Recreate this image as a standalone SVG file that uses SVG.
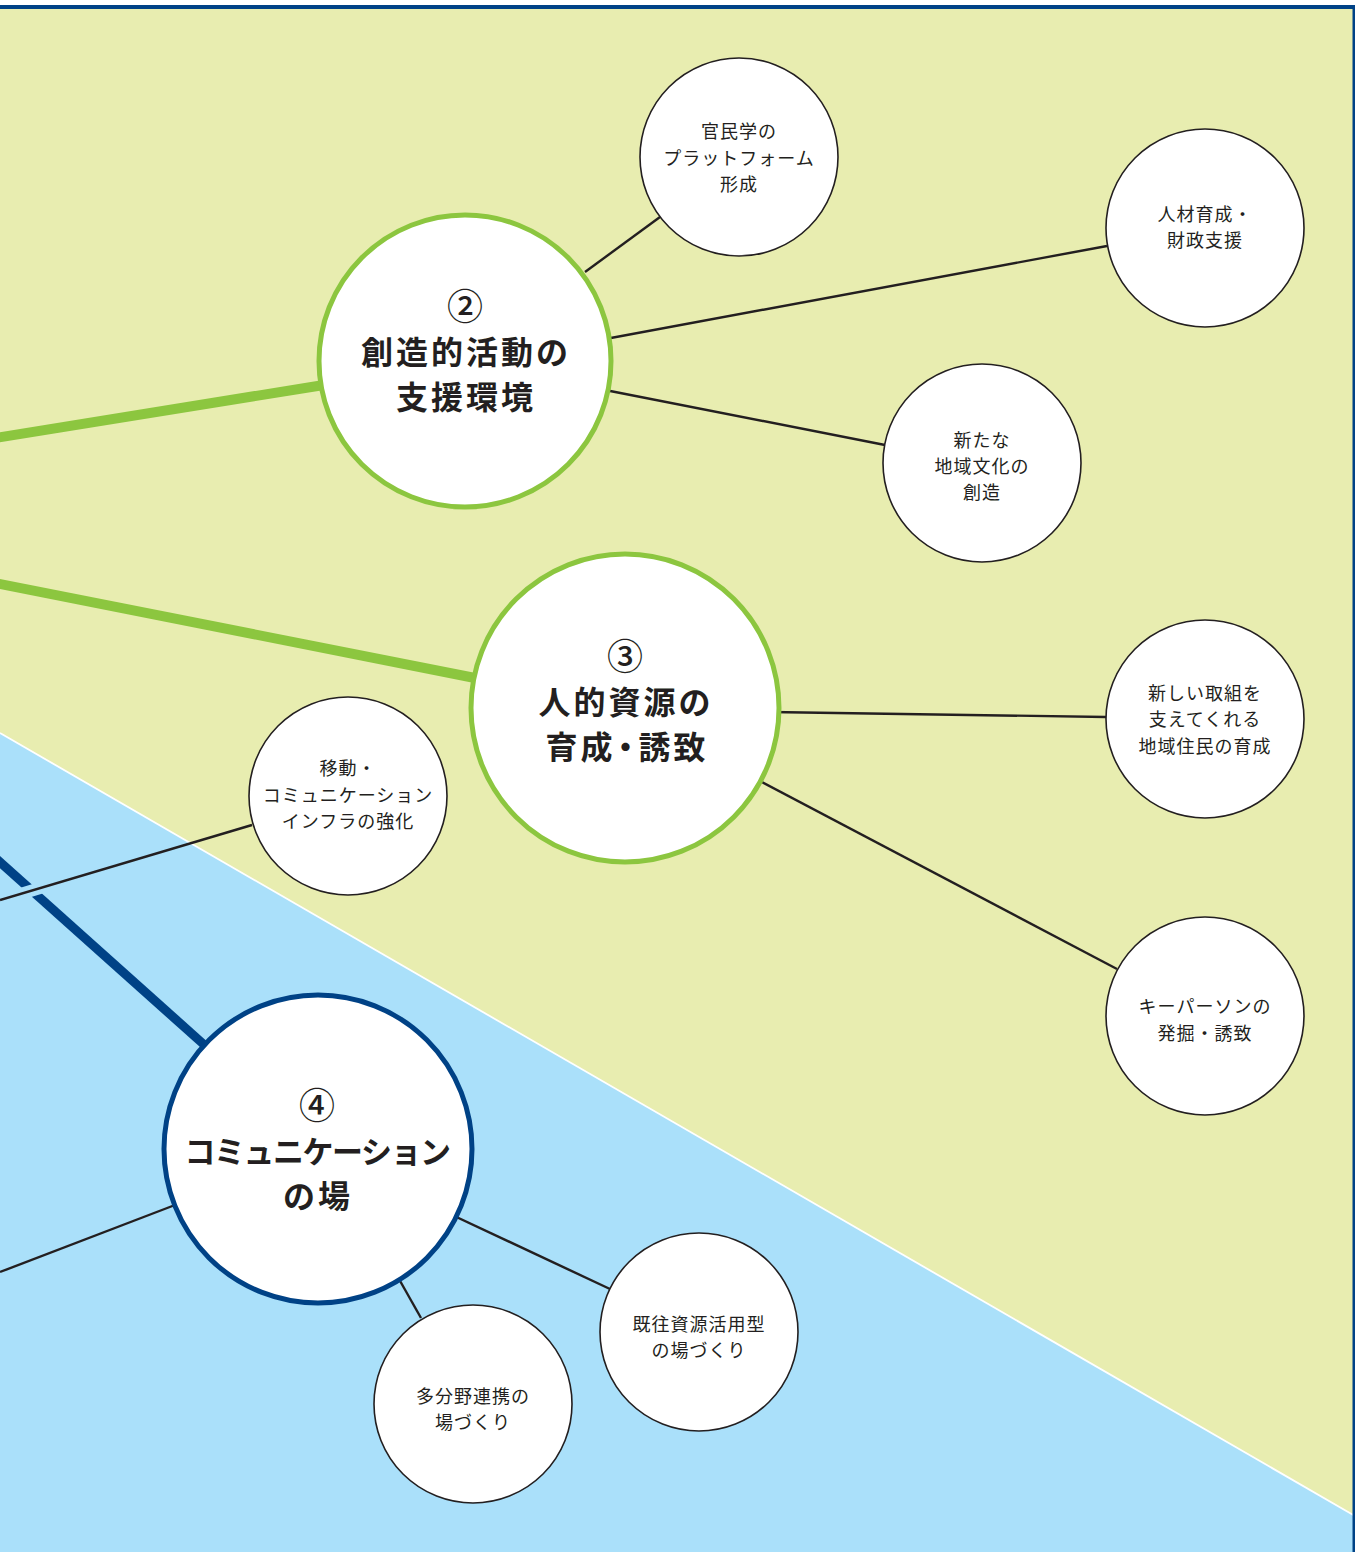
<svg xmlns="http://www.w3.org/2000/svg" width="1355" height="1552" viewBox="0 0 1355 1552">
<style>
.bigc{fill:#fff;stroke-width:5}
.g{stroke:#8cc63f}
.b{stroke:#004286}
.sc{fill:#fff;stroke:#231f20;stroke-width:1.6}
.ln{stroke:#231f20;stroke-width:2.4;fill:none}
.t{font-family:"Noto Sans CJK JP","Noto Sans",sans-serif;fill:#231f20;text-anchor:middle;dominant-baseline:central}
.s{font-size:18px;letter-spacing:1px}
.h{font-size:32px;font-weight:700;letter-spacing:3px}
.n{font-size:36px;font-weight:500}
</style>
<rect x="0" y="0" width="1355" height="1552" fill="#fff"/>
<rect x="0" y="9" width="1355" height="1543" fill="#e8edb0"/>
<polygon points="0,733 1355,1516 1355,1552 0,1552" fill="#aae0fa"/>
<line x1="0" y1="733" x2="1355" y2="1516" stroke="#fff" stroke-width="1.8"/>
<rect x="0" y="5" width="1355" height="4" fill="#004286"/>
<rect x="1352.5" y="5" width="2.5" height="1547" fill="#004286"/>
<g id="connectors">
<line x1="-5" y1="438" x2="330" y2="384" stroke="#8cc63f" stroke-width="10"/>
<line x1="-5" y1="583" x2="480" y2="679" stroke="#8cc63f" stroke-width="10"/>
<line x1="-8" y1="855" x2="210" y2="1050" stroke="#004286" stroke-width="9"/>
<line x1="14" y1="896" x2="50" y2="885" stroke="#aae0fa" stroke-width="12"/>
<line class="ln" x1="0" y1="900" x2="252" y2="825"/>
<line class="ln" x1="585" y1="272" x2="660" y2="217"/>
<line class="ln" x1="600" y1="340" x2="1107" y2="246"/>
<line class="ln" x1="600" y1="389" x2="885" y2="445"/>
<line class="ln" x1="770" y1="712" x2="1106" y2="717"/>
<line class="ln" x1="760" y1="781" x2="1117" y2="969"/>
<line class="ln" x1="450" y1="1214" x2="610" y2="1289"/>
<line class="ln" x1="395" y1="1272" x2="421" y2="1318"/>
<line class="ln" x1="0" y1="1272" x2="175" y2="1205"/>
</g>
<g id="node2">
<circle class="bigc g" cx="465" cy="361" r="146"/>
<text class="t n" x="465" y="304">②</text>
<text class="t h" x="466" y="350">創造的活動の</text>
<text class="t h" x="466" y="395">支援環境</text>
</g>
<g id="node3">
<circle class="bigc g" cx="625" cy="708" r="154"/>
<text class="t n" x="625" y="654">③</text>
<text class="t h" x="626" y="700">人的資源の</text>
<text class="t h" x="627" y="745">育成<tspan dx="-6">・</tspan><tspan dx="-6">誘致</tspan></text>
</g>
<g id="node4">
<circle class="bigc b" cx="318" cy="1149" r="154"/>
<text class="t n" x="317" y="1103">④</text>
<text class="t h" x="317" y="1149" style="font-size:31px;letter-spacing:-1.5px">コミュニケーション</text>
<text class="t h" x="318" y="1194">の場</text>
</g>
<g id="n-kanmin">
<circle class="sc" cx="739" cy="157" r="99"/>
<text class="t s" x="739" y="130">官民学の</text>
<text class="t s" x="739" y="157">プラットフォーム</text>
<text class="t s" x="739" y="183">形成</text>
</g>
<g id="n-jinzai">
<circle class="sc" cx="1205" cy="228" r="99"/>
<text class="t s" x="1205" y="213">人材育成・</text>
<text class="t s" x="1205" y="239">財政支援</text>
</g>
<g id="n-arata">
<circle class="sc" cx="982" cy="463" r="99"/>
<text class="t s" x="982" y="439">新たな</text>
<text class="t s" x="982" y="465">地域文化の</text>
<text class="t s" x="982" y="491">創造</text>
</g>
<g id="n-atarashii">
<circle class="sc" cx="1205" cy="719" r="99"/>
<text class="t s" x="1205" y="692">新しい取組を</text>
<text class="t s" x="1205" y="718">支えてくれる</text>
<text class="t s" x="1205" y="745">地域住民の育成</text>
</g>
<g id="n-keyperson">
<circle class="sc" cx="1205" cy="1016" r="99"/>
<text class="t s" x="1205" y="1005">キーパーソンの</text>
<text class="t s" x="1205" y="1032">発掘・誘致</text>
</g>
<g id="n-idou">
<circle class="sc" cx="348" cy="796" r="99"/>
<text class="t s" x="348" y="767">移動・</text>
<text class="t s" x="348" y="794">コミュニケーション</text>
<text class="t s" x="348" y="820">インフラの強化</text>
</g>
<g id="n-kiou">
<circle class="sc" cx="699" cy="1332" r="99"/>
<text class="t s" x="699" y="1323">既往資源活用型</text>
<text class="t s" x="699" y="1349">の場づくり</text>
</g>
<g id="n-tabunya">
<circle class="sc" cx="473" cy="1404" r="99"/>
<text class="t s" x="473" y="1395">多分野連携の</text>
<text class="t s" x="473" y="1421">場づくり</text>
</g>
</svg>
